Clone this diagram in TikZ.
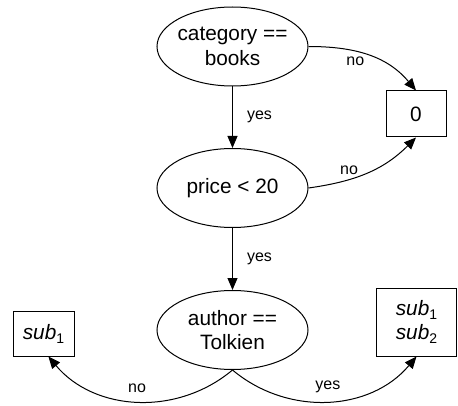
\documentclass[tikz,border=0pt]{standalone}
\usepackage{fontspec}
\setmainfont{Liberation Sans}
\usetikzlibrary{shapes.geometric,arrows.meta}
% italic name with a lowered subscript index
\newcommand{\subidx}[1]{\textit{sub}\raisebox{-4pt}{\fontsize{14}{16}\selectfont #1}}
\begin{document}
\begin{tikzpicture}[x=1pt,y=1pt,
  every node/.style={font=\fontsize{20.8}{24.7}\selectfont, align=center},
  test/.style={ellipse, draw, line width=1pt, inner sep=-4pt,
    minimum width=151pt, minimum height=79pt},
  leaf/.style={rectangle, draw, line width=1pt, inner sep=0pt},
  edge/.style={line width=1pt, -{Triangle[length=12pt,width=10pt]}},
  lab/.style={font=\fontsize{16}{18}\selectfont, inner sep=2pt}]
  \fill[white] (0,0) rectangle (458,405);
  \useasboundingbox (0,0) rectangle (458,405);

  % decision nodes
  \node[test] (cat) at (232.5,358.5) {category ==\\books};
  \node[test] (price) at (232.5,217) {price < 20};
  \node[test] (author) at (232.5,75) {author ==\\Tolkien};

  % leaves
  \node[leaf, minimum width=60pt, minimum height=46pt] (zero) at (416,291) {0};
  \node[leaf, minimum width=61pt, minimum height=45pt] (s1) at (43.5,71.5)
    {\subidx{1}};
  \node[leaf, minimum width=80pt, minimum height=68pt] (s12) at (416.5,83)
    {\subidx{1}\\\subidx{2}};

  % branches
  \draw[edge] (cat.south) -- node[lab, right=12pt] {yes} (price.north);
  \draw[edge] (price.south) -- node[lab, right=12pt] {yes} (author.north);
  \draw[edge] (cat.east) to[out=0, in=130]
    node[lab, pos=0.38, below=3pt] {no} (zero.north);
  \draw[edge] (price.east) to[out=8, in=-135]
    node[lab, pos=0.33, above=2pt] {no} (zero.south);
  \draw[edge] (author.south) to[out=-140, in=-50]
    node[lab, pos=0.5, above=6pt] {no} (s1.-78);
  \draw[edge] (author.south) to[out=-40, in=-130]
    node[lab, pos=0.5, above=6pt] {yes} (s12.south);
\end{tikzpicture}
\end{document}
